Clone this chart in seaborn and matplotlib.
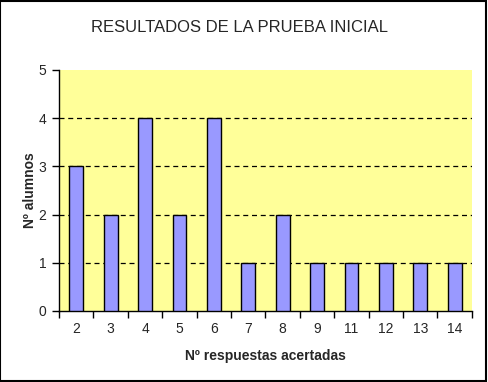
import matplotlib
matplotlib.use("Agg")
import matplotlib.pyplot as plt
import seaborn as sns
import pandas as pd

categories = ["2", "3", "4", "5", "6", "7", "8", "9", "11", "12", "13", "14"]
values = [3, 2, 4, 2, 4, 1, 2, 1, 1, 1, 1, 1]

sns.set_style("white")
plt.rcParams["font.family"] = ["Liberation Sans", "DejaVu Sans"]

df = pd.DataFrame({"cat": categories, "val": values})

fig = plt.figure(figsize=(4.88, 3.82), dpi=100)
fig.patch.set_facecolor("white")
ax = fig.add_axes([0.121, 0.186, 0.846, 0.631])
ax.set_facecolor("#FFFF99")

sns.barplot(data=df, x="cat", y="val", order=categories, color="#9999FF",
            saturation=1, width=0.4, edgecolor="black", linewidth=1, ax=ax, zorder=3)

ax.set_ylim(0, 5)
ax.set_xlim(-0.5, len(categories) - 0.5)
ax.set_yticks([0, 1, 2, 3, 4, 5])
for y in [1, 2, 3, 4]:
    ax.axhline(y, color="black", linestyle=(0, (4, 3)), linewidth=0.9, zorder=1)

for s in ["top", "right"]:
    ax.spines[s].set_visible(False)
for s in ["left", "bottom"]:
    ax.spines[s].set_color("black")
    ax.spines[s].set_linewidth(1)

ax.set_xticks([i - 0.5 for i in range(len(categories) + 1)], minor=True)
ax.tick_params(axis="x", which="major", length=0, pad=8, labelsize=10)
ax.tick_params(axis="x", which="minor", length=5, width=1, direction="out", color="black")
ax.tick_params(axis="y", which="major", length=5, width=1, direction="out", color="black", labelsize=10, pad=4)
ax.tick_params(left=True, bottom=True)
ax.xaxis.set_tick_params(which="minor", bottom=True)

ax.set_xlabel("Nº respuestas acertadas", fontsize=10, fontweight="bold", labelpad=9)
ax.set_ylabel("Nº alumnos", fontsize=10, fontweight="bold", labelpad=1)

fig.text(0.49, 0.927, "RESULTADOS DE LA PRUEBA INICIAL", ha="center", va="center", fontsize=12)

border = plt.Rectangle((0.001, 0.003), 0.994, 0.995, transform=fig.transFigure,
                       fill=False, edgecolor="black", linewidth=1.5)
fig.patches.append(border)

fig.savefig("out.png", dpi=100)
